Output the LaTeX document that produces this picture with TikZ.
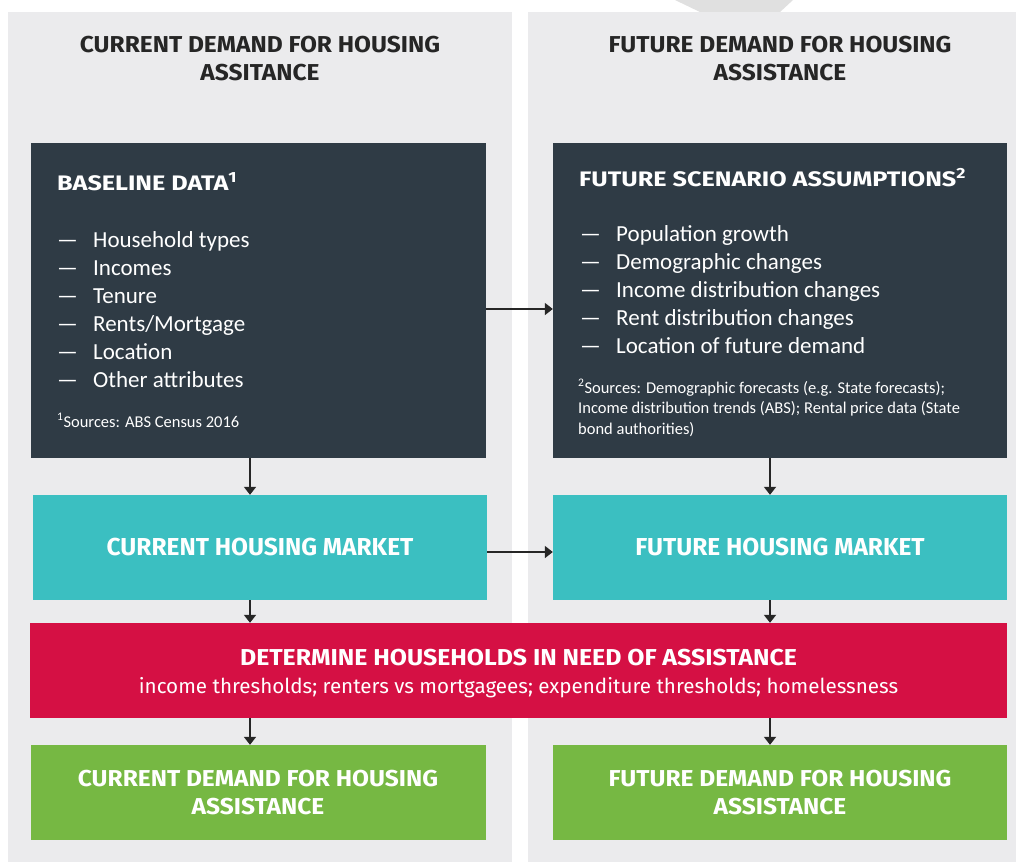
\documentclass[tikz,border=0pt]{standalone}
\usepackage{fontspec}
\setmainfont{Carlito}
\newfontfamily\headfont{Fira Sans}
\newfontfamily\titlefont{Fira Sans}[FakeStretch=1.065]
\newfontfamily\widefont{Fira Sans}[FakeStretch=1.2]
\newfontfamily\needfont{Fira Sans}[FakeStretch=1.08]
\usetikzlibrary{arrows.meta}

\definecolor{panelgrey}{HTML}{EBEBED}
\definecolor{slate}{HTML}{2F3B45}
\definecolor{teal}{HTML}{3BBFC1}
\definecolor{crimson}{HTML}{D51044}
\definecolor{leaf}{HTML}{76B843}
\definecolor{ink}{HTML}{262626}

\tikzset{
	coltitle/.style={text=ink, align=center, font=\titlefont\bfseries\fontsize{23}{28}\selectfont},
	darkbox/.style={fill=slate, inner sep=0pt, minimum width=455pt, minimum height=315pt},
	boxhead/.style={text=white, inner sep=0pt, font=\widefont\bfseries\fontsize{21}{24}\selectfont},
	itemlist/.style={text=white, inner sep=0pt, align=left, font=\fontsize{23}{28}\selectfont},
	srcnote/.style={text=white, inner sep=0pt, align=left, font=\fontsize{16.5}{20.5}\selectfont},
	marketbox/.style={fill=teal, text=white, inner sep=0pt, minimum width=454pt, minimum height=105pt,
		font=\headfont\bfseries\fontsize{24.5}{28}\selectfont},
	needbox/.style={fill=crimson, inner sep=0pt, minimum width=977pt, minimum height=95pt},
	needhead/.style={text=white, inner sep=0pt, font=\needfont\bfseries\fontsize{23}{28}\selectfont},
	needsub/.style={text=white, inner sep=0pt, font=\headfont\fontsize{20.6}{24}\selectfont},
	demandbox/.style={fill=leaf, text=white, inner sep=0pt, align=center, minimum width=455pt, minimum height=95pt,
		font=\titlefont\bfseries\fontsize{23}{28}\selectfont},
	arr/.style={draw=ink, line width=1.8pt, -{Triangle[length=8pt,width=12pt]}}
}

\newcommand{\dash}[1]{\makebox[36pt][l]{---}#1}

\begin{document}
\begin{tikzpicture}[x=1pt,y=-1pt]

	\useasboundingbox (0,0) rectangle (1016,862);
	\fill[white] (0,0) rectangle (1016,862);
	\fill[black!12] (675,0) -- (793,0) -- (780,12) -- (700,12) -- cycle;

	% two columns
	\fill[panelgrey] (8,12) rectangle (512,862);
	\fill[panelgrey] (528,12) rectangle (1016,862);

	\node[coltitle] (curtitle) at (260,59) {CURRENT DEMAND FOR HOUSING\\ASSITANCE};
	\node[coltitle] (futtitle) at (780,59) {FUTURE DEMAND FOR HOUSING\\ASSISTANCE};

	% data boxes
	\node[darkbox] (base) at (258.5,300.5) {};
	\node[darkbox, minimum width=454pt] (scen) at (780,300.5) {};

	\node[boxhead, anchor=base west] (basehead) at (57,190) {BASELINE DATA\textsuperscript{1}};
	\node[itemlist, anchor=north west] (baselist) at (57,231) {\dash{Household types}\\\dash{Incomes}\\\dash{Tenure}\\\dash{Rents/Mortgage}\\\dash{Location}\\\dash{Other attributes}};
	\node[srcnote, anchor=base west] (basesrc) at (57,427) {\textsuperscript{1}Sources: ABS Census 2016};

	\node[boxhead, anchor=base west] (scenhead) at (579,186) {FUTURE SCENARIO ASSUMPTIONS\textsuperscript{2}};
	\node[itemlist, anchor=north west] (scenlist) at (580,225) {\dash{Population growth}\\\dash{Demographic changes}\\\dash{Income distribution changes}\\\dash{Rent distribution changes}\\\dash{Location of future demand}};
	\node[srcnote, anchor=base west] (scensrc) at (578,434) {\textsuperscript{2}Sources: Demographic forecasts (e.g. State forecasts);\\Income distribution trends (ABS); Rental price data (State\\bond authorities)};

	% markets
	\node[marketbox] (curmkt) at (260,547.5) {CURRENT HOUSING MARKET};
	\node[marketbox] (futmkt) at (780,547.5) {FUTURE HOUSING MARKET};

	% need
	\node[needbox] (need) at (518.5,670.5) {};
	\node[needhead] (needtitle) at (518.5,658) {DETERMINE HOUSEHOLDS IN NEED OF ASSISTANCE};
	\node[needsub] (needtext) at (518.5,688) {income thresholds; renters vs mortgagees; expenditure thresholds; homelessness};

	% results
	\node[demandbox] (curdem) at (258,792.5) {CURRENT DEMAND FOR HOUSING\\ASSISTANCE};
	\node[demandbox, minimum width=454pt] (futdem) at (780,792.5) {FUTURE DEMAND FOR HOUSING\\ASSISTANCE};

	% arrows
	\coordinate (lcol) at (250,0);
	\coordinate (rcol) at (770,0);
	\coordinate (toprow) at (0,309);
	\coordinate (midrow) at (0,552);

	\draw[arr] (base.east |- toprow) -- (scen.west |- toprow);
	\draw[arr] (curmkt.east |- midrow) -- (futmkt.west |- midrow);

	\draw[arr] (lcol |- base.south) -- (lcol |- curmkt.north);
	\draw[arr] (rcol |- scen.south) -- (rcol |- futmkt.north);
	\draw[arr] (lcol |- curmkt.south) -- (lcol |- need.north);
	\draw[arr] (rcol |- futmkt.south) -- (rcol |- need.north);
	\draw[arr] (lcol |- need.south) -- (lcol |- curdem.north);
	\draw[arr] (rcol |- need.south) -- (rcol |- futdem.north);

\end{tikzpicture}
\end{document}
